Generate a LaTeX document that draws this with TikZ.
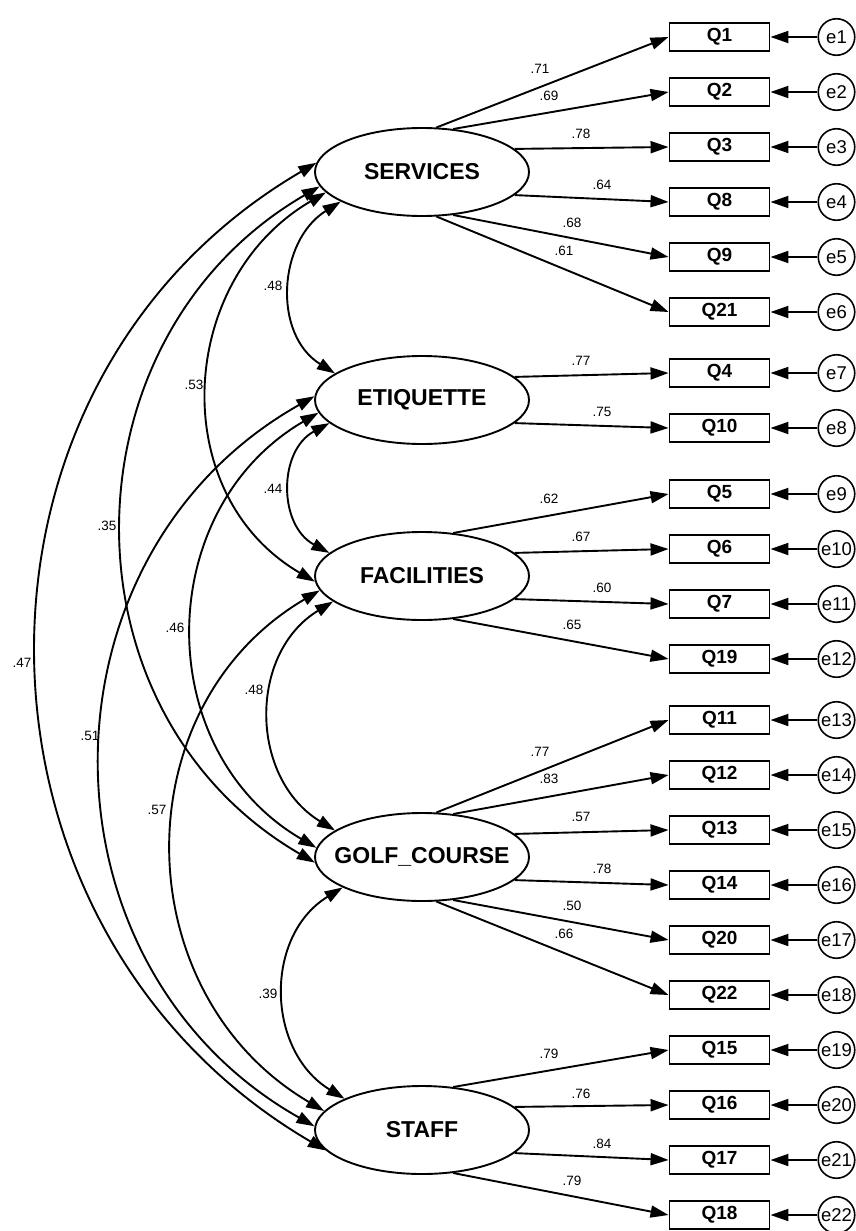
\documentclass[tikz,border=0pt]{standalone}
\usepackage{fontspec}
\setmainfont{Liberation Sans}
\usetikzlibrary{arrows.meta,shapes.geometric,calc}
\begin{document}
\begin{tikzpicture}[x=1pt,y=-1pt,
  latent/.style={ellipse,draw,line width=1.9pt,minimum width=214pt,minimum height=88pt,inner sep=0pt,font=\fontsize{23}{23}\selectfont\bfseries},
  obs/.style={rectangle,draw,line width=1.9pt,minimum width=100pt,minimum height=28pt,inner sep=0pt,font=\fontsize{19}{19}\selectfont\bfseries},
  err/.style={circle,draw,line width=1.6pt,minimum size=36.5pt,inner sep=0pt,font=\fontsize{18.5}{18.5}\selectfont},
  coef/.style={font=\fontsize{13.5}{13.5}\selectfont,inner sep=0pt},
  load/.style={line width=1.9pt,-{Triangle[length=18pt,width=12pt]}},
  cov/.style={line width=1.9pt,{Triangle[length=18pt,width=12pt]}-{Triangle[length=18pt,width=12pt]}}
]
\useasboundingbox (0,0) rectangle (856,1231);

% latent variables
\node[latent] (S) at (422,172) {\makebox[0pt]{SERVICES}};
\node[latent] (E) at (422,400) {\makebox[0pt]{ETIQUETTE}};
\node[latent] (F) at (422,576) {\makebox[0pt]{FACILITIES}};
\node[latent] (G) at (422,857) {\makebox[0pt]{GOLF\_COURSE}};
\node[latent] (St) at (422,1130) {\makebox[0pt]{STAFF}};

% observed variables and errors
\foreach \q/\e/\y in {Q1/e1/37, Q2/e2/92, Q3/e3/147, Q8/e4/202, Q9/e5/257, Q21/e6/312,
                      Q4/e7/373, Q10/e8/428,
                      Q5/e9/494, Q6/e10/549, Q7/e11/604, Q19/e12/659,
                      Q11/e13/720, Q12/e14/775, Q13/e15/830, Q14/e16/885, Q20/e17/940, Q22/e18/995,
                      Q15/e19/1050, Q16/e20/1105, Q17/e21/1160, Q18/e22/1215}{
  \node[obs] (\q) at (719.5,\y) {\q};
  \node[err] (\e) at (836.5,\y) {\e};
  \draw[load] (\e) -- (\q.east);
}

% loadings
\foreach \n/\a/\q in {S/72/Q1, S/54/Q2, S/14/Q3, S/346/Q8, S/306/Q9, S/288/Q21,
                      E/14/Q4, E/346/Q10,
                      F/54/Q5, F/14/Q6, F/346/Q7, F/306/Q19,
                      G/72/Q11, G/54/Q12, G/14/Q13, G/346/Q14, G/306/Q20, G/288/Q22,
                      St/54/Q15, St/14/Q16, St/346/Q17, St/306/Q18}{
  \draw[load] (\n.\a) -- (\q.west);
}

% loading estimates
\node[coef] (lq1) at (540,69) {.71};
\node[coef] (lq2) at (549,96) {.69};
\node[coef] (lq3) at (581,134) {.78};
\node[coef] (lq8) at (602,185) {.64};
\node[coef] (lq9) at (572,223) {.68};
\node[coef] (lq21) at (564,251) {.61};
\node[coef] (lq4) at (581,361) {.77};
\node[coef] (lq10) at (602,412) {.75};
\node[coef] (lq5) at (549,499) {.62};
\node[coef] (lq6) at (581,537) {.67};
\node[coef] (lq7) at (602,588) {.60};
\node[coef] (lq19) at (572,625) {.65};
\node[coef] (lq11) at (540,752) {.77};
\node[coef] (lq12) at (549,779) {.83};
\node[coef] (lq13) at (581,817) {.57};
\node[coef] (lq14) at (602,869) {.78};
\node[coef] (lq20) at (572,906) {.50};
\node[coef] (lq22) at (564,934) {.66};
\node[coef] (lq15) at (549,1054) {.79};
\node[coef] (lq16) at (581,1094) {.76};
\node[coef] (lq17) at (602,1144) {.84};
\node[coef] (lq18) at (572,1181) {.79};

% covariances
\draw[cov] (S.200) .. controls +(-62.7,39.3) and +(-62.7,-39.3) .. (E.163);
\draw[cov] (S.192) .. controls +(-149.3,87.2) and +(-149.3,-87.2) .. (F.183);
\draw[cov] (S.188) .. controls +(-259.3,150.7) and +(-259.3,-150.7) .. (G.183);
\draw[cov] (S.175) .. controls +(-377.7,220.7) and +(-377.7,-220.7) .. (St.192);
\draw[cov] (E.194) .. controls +(-51.3,27.7) and +(-51.3,-27.7) .. (F.166);
\draw[cov] (E.187) .. controls +(-166.0,97.1) and +(-166.0,-97.1) .. (G.175);
\draw[cov] (E.178) .. controls +(-283.9,160.3) and +(-283.9,-160.3) .. (St.178);
\draw[cov] (F.196) .. controls +(-85.4,52.1) and +(-85.4,-52.1) .. (G.163);
\draw[cov] (F.188) .. controls +(-198.7,116.9) and +(-198.7,-116.9) .. (St.169);
\draw[cov] (G.201) .. controls +(-78.7,48.3) and +(-78.7,-48.3) .. (St.158);

% covariance estimates
\node[coef] (cSE) at (273,286) {.48};
\node[coef] (cSF) at (194,385) {.53};
\node[coef] (cSG) at (107,526) {.35};
\node[coef] (cEF) at (273,489) {.44};
\node[coef] (cEG) at (175,628) {.46};
\node[coef] (cSSt) at (22,663) {.47};
\node[coef] (cFG) at (254,690) {.48};
\node[coef] (cESt) at (90,736) {.51};
\node[coef] (cFSt) at (157,810) {.57};
\node[coef] (cGSt) at (268,994) {.39};
\end{tikzpicture}
\end{document}
